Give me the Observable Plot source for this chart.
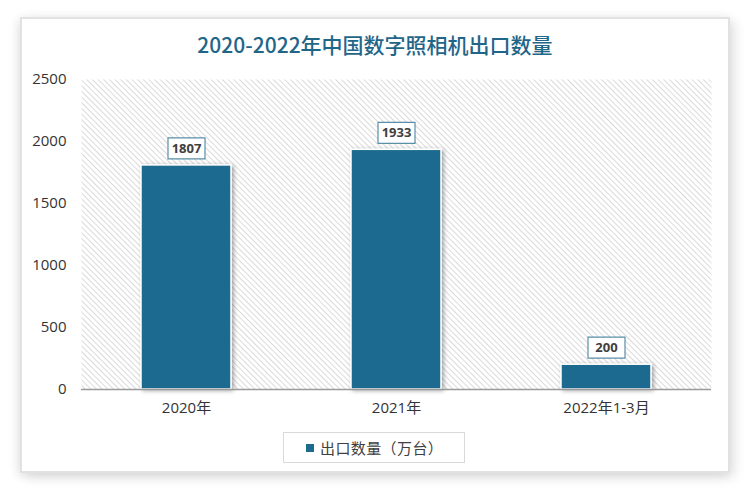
<!DOCTYPE html>
<html>
<head>
<meta charset="utf-8">
<script src="https://cdn.jsdelivr.net/npm/d3@7"></script>
<script src="https://cdn.jsdelivr.net/npm/@observablehq/plot@0.6"></script>
<style>
  html, body { margin: 0; padding: 0; background: #fff; }
  #page { position: relative; width: 750px; height: 491px; overflow: hidden; background: #fff; }
  #card { position: absolute; left: 20px; top: 17px; width: 706px; height: 452px;
          border: 2px solid #e2e2e2; background: #fff;
          box-shadow: 4px 4px 12px rgba(0,0,0,0.12), -3px 2px 10px rgba(0,0,0,0.08); }
  #title { position: absolute; left: 0; top: 31px; width: 750px; text-align: center;
           font-family: "Noto Sans CJK SC", sans-serif; font-weight: 500; font-size: 21px;
           color: #1f6689; line-height: 26px; }
  #chart { position: absolute; left: 0; top: 60px; }
  #legend { position: absolute; left: 283px; top: 432px; width: 180px; height: 29px;
            border: 1px solid #d9d9d9; background: #fff;
            font-family: "Noto Sans CJK SC", sans-serif; font-size: 15px; color: #404040;
            letter-spacing: 0.4px; line-height: 29px; }
  #legend .sw { position: absolute; left: 22px; top: 11px; width: 8px; height: 8px; background: #1d6b8f; }
  #legend .tx { position: absolute; left: 36px; top: 0; }
</style>
</head>
<body>
<div id="page">
  <div id="card"></div>
  <div id="title">2020-2022年中国数字照相机出口数量</div>
  <div id="chart"></div>
  <div id="legend"><span class="sw"></span><span class="tx">出口数量（万台）</span></div>
</div>
<script>
const categories = ["2020年", "2021年", "2022年1-3月"];
const values = [1807, 1933, 200];
const yTicks = [0, 500, 1000, 1500, 2000, 2500];
const seriesName = "出口数量（万台）";

const data = categories.map((c, i) => ({category: c, value: values[i]}));

const labelBox = {
  draw(context) {
    context.rect(-18.5, -10.5, 37, 21);
  }
};

const chart = Plot.plot({
  width: 750,
  height: 370,
  marginLeft: 81,
  marginRight: 39,
  marginTop: 19,
  marginBottom: 41,
  style: {fontFamily: "'Open Sans', 'Noto Sans CJK SC', sans-serif", fontSize: "15px", color: "#333", background: "transparent"},
  x: {domain: categories, paddingInner: 0.5714, paddingOuter: 0.2857, label: null},
  y: {domain: [0, 2500], label: null},
  marks: [
    Plot.frame({fill: "url(#hatch)", stroke: "none"}),
    Plot.barY(data, {x: "category", y: "value", fill: "#1d6b8f", stroke: "#ffffff", strokeWidth: 1.5}),
    Plot.ruleY([0], {stroke: "#9a9a9a", strokeWidth: 1.5}),
    Plot.axisY({ticks: yTicks, tickFormat: "d", tickSize: 0, tickPadding: 15, fontSize: 15, fill: "#333", label: null}),
    Plot.axisX({tickSize: 0, tickPadding: 13, fontSize: 15, fill: "#333", label: null}),
    Plot.dot(data, {x: "category", y: "value", symbol: labelBox, r: 5, fill: "#ffffff", stroke: "#5a8fa9", strokeWidth: 1.2, dy: -17}),
    Plot.text(data, {x: "category", y: "value", text: d => String(d.value), dy: -17, fill: "#404040", fontWeight: "bold", fontSize: 13})
  ]
});

// hatch pattern for the plot background
const ns = "http://www.w3.org/2000/svg";
const defs = document.createElementNS(ns, "defs");
defs.innerHTML = `<pattern id="hatch" patternUnits="userSpaceOnUse" width="4" height="4" patternTransform="rotate(45)">
  <rect width="4" height="4" fill="#ffffff"></rect>
  <rect x="0" y="0" width="4" height="1" fill="#dadada"></rect>
</pattern>
<filter id="shadow" x="-20%" y="-20%" width="150%" height="150%">
  <feDropShadow dx="2" dy="1" stdDeviation="2" flood-color="#000" flood-opacity="0.35"></feDropShadow>
</filter>`;
chart.insertBefore(defs, chart.firstChild);
const barG = chart.querySelector('g[aria-label="bar"]');
if (barG) barG.setAttribute("filter", "url(#shadow)");
document.getElementById("chart").appendChild(chart);
</script>
</body>
</html>
